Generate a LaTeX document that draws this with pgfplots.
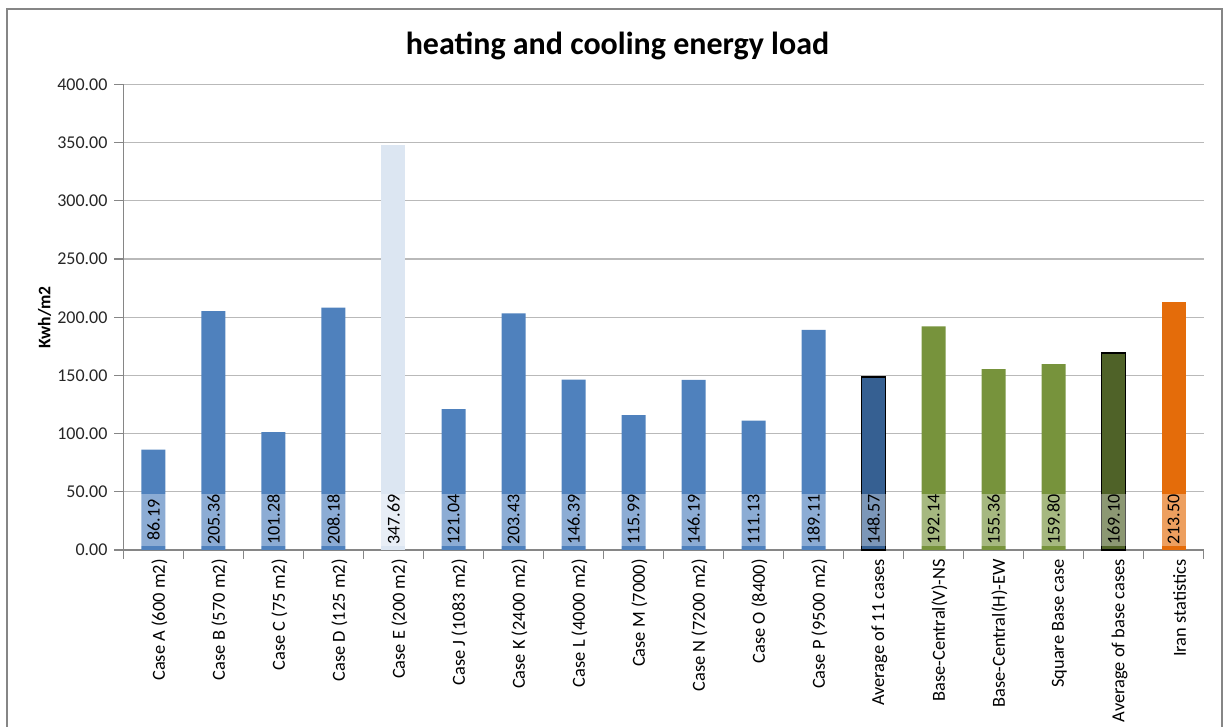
\documentclass[border=0pt]{standalone}
\usepackage{pgfplots}
\pgfplotsset{compat=1.18}
\usepackage{fontspec}
\setmainfont{Carlito}

\definecolor{barblue}{HTML}{4F81BD}
\definecolor{barlight}{HTML}{DCE6F2}
\definecolor{bardark}{HTML}{366092}
\definecolor{bargreen}{HTML}{77933C}
\definecolor{bardkgreen}{HTML}{4F6228}
\definecolor{barorange}{HTML}{E46C0A}
\definecolor{axisgray}{HTML}{868686}
\definecolor{gridgray}{HTML}{B9B9B9}

\begin{document}
\begin{tikzpicture}
\path[use as bounding box] (0,0) rectangle (611.5pt,363.5pt);
% chart frame (open at the bottom, as cropped)
\draw[axisgray, line width=1pt] (3.5pt,-5pt) -- (3.5pt,359pt) -- (610.75pt,359pt) -- (610.75pt,-5pt);
\node[anchor=base, font=\fontsize{16}{19}\selectfont\bfseries] at (308.75pt,336pt) {heating and cooling energy load};

\begin{axis}[
    at={(61.75pt,88.5pt)}, anchor=south west,
    scale only axis, width=540pt, height=232.75pt,
    xmin=-0.5, xmax=17.5, ymin=0, ymax=400,
    ytick={0,50,...,400},
    axis x line*=bottom, axis y line*=left,
    axis line style={axisgray, line width=0.6pt, -},
    ymajorgrids, grid style={gridgray, line width=0.6pt},
    tick align=outside, tick style={axisgray, line width=0.6pt},
    major tick length=4.5pt, minor tick length=4.5pt,
    xtick={0,...,17}, x tick style={draw=none},
    minor xtick={-0.5,0.5,...,17.5},
    minor x tick style={draw=axisgray},
    xticklabels={Case A (600 m2), Case B (570 m2), Case C (75 m2), Case D (125 m2),
        Case E (200 m2), Case J (1083 m2), Case K (2400 m2), Case L (4000 m2),
        Case M (7000), Case N (7200 m2), Case O (8400), Case P (9500 m2),
        Average of 11 cases, Base-Central(V)-NS, Base-Central(H)-EW,
        Square Base case, Average of base cases, Iran statistics},
    xticklabel style={rotate=90, anchor=east, font=\fontsize{9.2}{10.5}\selectfont, inner sep=0pt, yshift=-3pt},
    yticklabel style={font=\fontsize{9}{10.5}\selectfont, text=black!85},
    ylabel={\bfseries Kwh/m2},
    ylabel style={font=\fontsize{8.8}{10}\selectfont, at={(axis description cs:-0.073,0.5)}, anchor=center, rotate=0},
    /pgf/number format/.cd, fixed, fixed zerofill, precision=2, assume math mode=true,
    /pgfplots/.cd,
    ybar, bar width=12pt,
    clip=false,
]
\addplot[bar shift=0pt, fill=barblue, draw=none] coordinates {
    (0,86.19) (1,205.36) (2,101.28) (3,208.18) (5,121.04) (6,203.43)
    (7,146.39) (8,115.99) (9,146.19) (10,111.13) (11,189.11)};
\addplot[bar shift=0pt, fill=barlight, draw=none] coordinates {(4,347.69)};
\addplot[bar shift=0pt, fill=bardark, draw=black, line width=0.75pt] coordinates {(12,148.57)};
\addplot[bar shift=0pt, fill=bargreen, draw=none] coordinates {(13,192.14) (14,155.36) (15,159.80)};
\addplot[bar shift=0pt, fill=bardkgreen, draw=black, line width=0.75pt] coordinates {(16,169.10)};
\addplot[bar shift=0pt, fill=barorange, draw=none] coordinates {(17,213.50)};
% data labels in translucent boxes near the base
\addplot[bar shift=0pt, draw=none, fill=none,
    nodes near coords, point meta=explicit,
    every node near coord/.style={rotate=90, anchor=center, fill=white, fill opacity=0.35,
        text opacity=1, text=black, minimum width=26pt, minimum height=13pt, inner sep=0pt,
        font=\fontsize{9}{10}\selectfont}]
    coordinates {
    (0,26) [86.19] (1,26) [205.36] (2,26) [101.28] (3,26) [208.18] (4,26) [347.69]
    (5,26) [121.04] (6,26) [203.43] (7,26) [146.39] (8,26) [115.99] (9,26) [146.19]
    (10,26) [111.13] (11,26) [189.11] (12,26) [148.57] (13,26) [192.14] (14,26) [155.36]
    (15,26) [159.80] (16,26) [169.10] (17,26) [213.50]};
\end{axis}
\end{tikzpicture}
\end{document}
